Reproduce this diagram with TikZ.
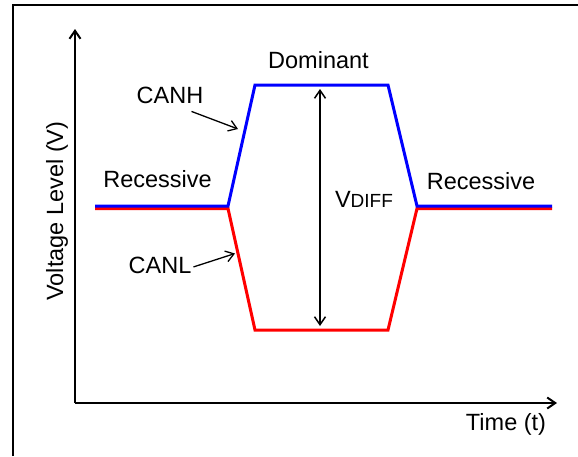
\documentclass[tikz,border=0pt]{standalone}
\usepackage{fontspec}
\setmainfont{Liberation Sans}
\usetikzlibrary{arrows.meta}

\definecolor{canhblue}{RGB}{0,0,255}
\definecolor{canlred}{RGB}{255,0,0}

\begin{document}
\begin{tikzpicture}[x=1pt, y=-1pt,
    >={Straight Barb[length=8pt, width=11pt]},
    rotulo/.style={font=\fontsize{23.5}{27}\selectfont, inner sep=0pt, anchor=base},
    eixo/.style={->, line width=2pt},
    sinal/.style={line width=3pt, line join=miter},
    seta/.style={->, line width=1.3pt}]

    \useasboundingbox (0,0) rectangle (578,456);

    % Moldura
    \draw[line width=2pt] (13,456) -- (13,5) -- (578,5);

    % Eixos coordenados
    \coordinate (O) at (75,403);
    \coordinate (Ytop) at (75,29);
    \coordinate (Xend) at (557,403);
    \draw[eixo] (O) -- (Ytop);
    \draw[eixo] (O) -- (Xend);
    \node[rotulo] (time) at (506,430) {Time (t)};
    \node[rotulo, rotate=90] (volt) at (63,211) {Voltage Level (V)};

    % Pontos do sinal
    \coordinate (H0) at (95,206);  \coordinate (H1) at (228,206);
    \coordinate (H2) at (255,85);  \coordinate (H3) at (388,85);
    \coordinate (H4) at (417,206); \coordinate (H5) at (552,206);
    \coordinate (L0) at (95,208.5);  \coordinate (L1) at (228,208.5);
    \coordinate (L2) at (255,330);   \coordinate (L3) at (388,330);
    \coordinate (L4) at (417,208.5); \coordinate (L5) at (552,208.5);

    % CANL e CANH
    \draw[sinal, canlred] (L0) -- (L1) -- (L2) -- (L3) -- (L4) -- (L5);
    \draw[sinal, canhblue] (H0) -- (H1) -- (H2) -- (H3) -- (H4) -- (H5);

    % Tensao diferencial
    \coordinate (Dtop) at (320,89);
    \coordinate (Dbot) at (320,326);
    \draw[<->, line width=1.5pt] (Dtop) -- (Dbot);
    \node[rotulo] (vdiff) at (364,207) {V{\fontsize{19}{22}\selectfont DIFF}};

    % Rotulos
    \node[rotulo] (dom) at (318.5,68) {Dominant};
    \node[rotulo] (recA) at (157.5,187) {Recessive};
    \node[rotulo] (recB) at (481,189) {Recessive};
    \node[rotulo] (canh) at (170,103) {CANH};
    \node[rotulo] (canl) at (160,273) {CANL};

    % Setas indicadoras
    \coordinate (hTip) at (238,129);
    \coordinate (lTip) at (235,253.5);
    \draw[seta] (canh.south east) ++(-12,8) coordinate (hStart) -- (hTip);
    \draw[seta] (canl.east) ++(2,2) coordinate (lStart) -- (lTip);

\end{tikzpicture}
\end{document}
